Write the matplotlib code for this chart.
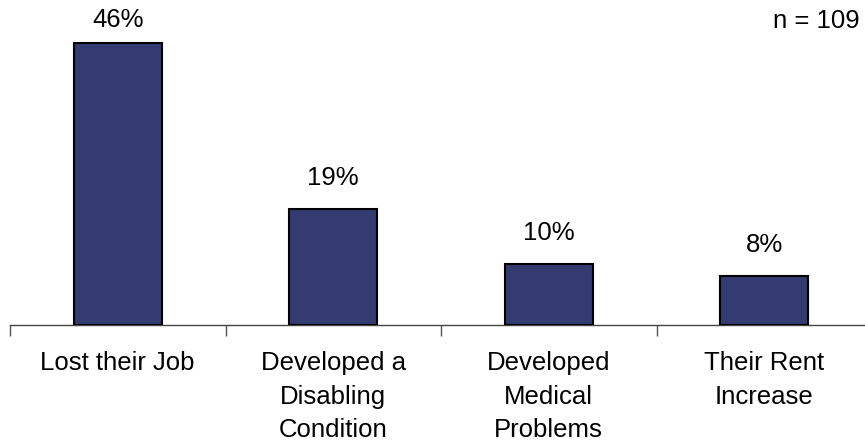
import matplotlib
matplotlib.use("Agg")
import matplotlib.pyplot as plt

categories = ["Lost their Job", "Developed a\nDisabling\nCondition", "Developed\nMedical\nProblems", "Their Rent\nIncrease"]
values = [46, 19, 10, 8]
value_labels = ["46%", "19%", "10%", "8%"]
note = "n = 109"

plt.rcParams['font.family'] = ['Liberation Sans', 'DejaVu Sans']

W, H = 865, 444
FS = 18.5
fig = plt.figure(figsize=(W / 100, H / 100), dpi=100)
ax_left = 10 / W
ax_width = 862 / W
ax_bottom = (H - 325) / H
ymax = 50
ax_height = (ymax * 6.13) / H
ax = fig.add_axes([ax_left, ax_bottom, ax_width, ax_height])

x = list(range(len(categories)))
ax.bar(x, values, width=0.41, color="#343B70", edgecolor="black", linewidth=1.5, zorder=3)

for xi, v, lab in zip(x, values, value_labels):
    y = min(v + 3.1, 47.8)
    ax.text(xi, y, lab, ha="center", va="bottom", fontsize=FS, color="black")

ax.set_xlim(-0.5, len(categories) - 0.5)
ax.set_ylim(0, ymax)
ax.set_xticks(x)
ax.set_xticklabels(categories, fontsize=FS, linespacing=1.48)
ax.tick_params(axis="x", which="major", length=0, pad=19)
ax.set_xticks([i - 0.5 for i in range(len(categories) + 1)], minor=True)
ax.tick_params(axis="x", which="minor", length=8, width=1, color="#555555", direction="out")
ax.set_yticks([])
for s in ["left", "right", "top"]:
    ax.spines[s].set_visible(False)
ax.spines["bottom"].set_color("#444444")
ax.spines["bottom"].set_linewidth(1)

fig.text(860 / W, 1 - 21 / H, note, ha="right", va="center", fontsize=FS)

fig.savefig("out.png", dpi=100, facecolor="white")
